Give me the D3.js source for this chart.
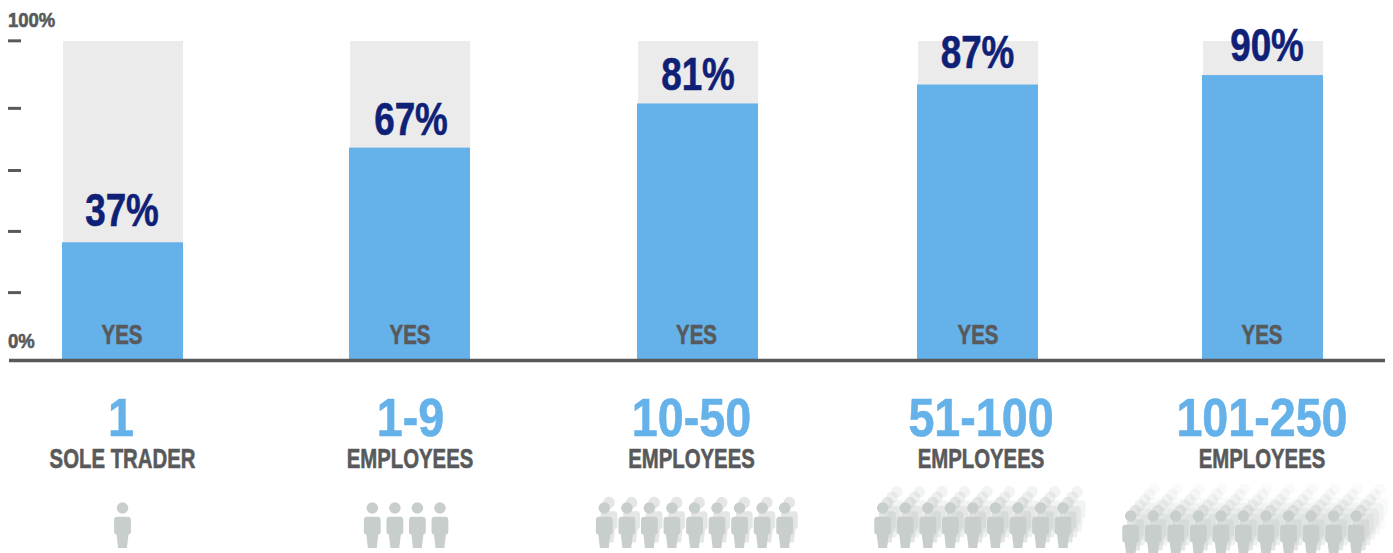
<!DOCTYPE html>
<html>
<head>
<meta charset="utf-8">
<script src="https://cdn.jsdelivr.net/npm/d3@7/dist/d3.min.js"></script>
<style>
  html, body { margin: 0; padding: 0; background: #fff; }
  svg { display: block; }
  text { font-family: "Liberation Sans", Arial, sans-serif; font-weight: 700; }
</style>
</head>
<body>
<svg id="chart" width="1393" height="553"></svg>
<script>
// Share of businesses answering yes, by business size
const categories = ["1", "1-9", "10-50", "51-100", "101-250"];
const subLabels = ["SOLE TRADER", "EMPLOYEES", "EMPLOYEES", "EMPLOYEES", "EMPLOYEES"];
const yesShare = [37, 67, 81, 87, 90];
const axisEnds = [0, 100];
const dashTicks = [101, 79.6, 59.9, 40.6, 21.2];
const peopleInRow = [1, 4, 9, 9, 11];
const rowsBehind = [0, 0, 1, 3, 5];

const colors = { bar: "#65b1ea", track: "#ebebeb", value: "#0f2177", grey: "#58595b", person: "#c8cecc" };

const svg = d3.select("#chart");

const y = d3.scaleLinear().domain(axisEnds).range([359, 43.5]);
const trackTop = 41;
const barCentre = d3.scaleOrdinal().domain(categories).range([122.5, 409.5, 697.5, 977.5, 1262.5]);
const valueCentre = d3.scaleOrdinal().domain(categories).range([122, 411, 698, 977.5, 1267]);
const valueRaise = d3.scaleOrdinal().domain(categories).range([16, 13, 13, 16.5, 14]);
const yesCentre = d3.scaleOrdinal().domain(categories).range([122, 410, 696.5, 978, 1262]);
const labelCentre = d3.scaleOrdinal().domain(categories).range([121, 410.5, 691.5, 981, 1262]);
const subCentre = d3.scaleOrdinal().domain(categories).range([122.5, 410, 691.5, 981, 1262]);
const crowdLeft = d3.scaleOrdinal().domain(categories).range([122.5, 372.3, 604.3, 882.7, 1130.7]);
const crowdDrop = d3.scaleOrdinal().domain(categories).range([0, 0, 0, 0, 8]);
const barWidth = 121;

// Draws condensed lettering by narrowing a bold face horizontally
function placeText(sel, xOf, yOf, squeeze, size, fill) {
  sel.attr("transform", (d, i) => `translate(${xOf(d, i)},${yOf(d, i)}) scale(${squeeze},1)`)
    .attr("font-size", size)
    .attr("fill", fill)
    .attr("stroke", fill)
    .attr("stroke-width", 0.6);
}

// Background tracks, then the filled share on top
svg.append("g").selectAll("rect").data(categories).join("rect")
  .attr("x", d => barCentre(d) - barWidth / 2 + 1)
  .attr("width", barWidth - 1)
  .attr("y", trackTop)
  .attr("height", y(0) - trackTop)
  .attr("fill", colors.track);

svg.append("g").selectAll("rect").data(categories).join("rect")
  .attr("x", d => barCentre(d) - barWidth / 2)
  .attr("width", barWidth)
  .attr("y", (d, i) => y(yesShare[i]))
  .attr("height", (d, i) => y(0) - y(yesShare[i]))
  .attr("fill", colors.bar);

// Value axis: unlabelled dashes with the two end labels
const axis = d3.axisLeft(y).tickValues(dashTicks).tickSize(13).tickFormat("");
const axisG = svg.append("g").attr("transform", "translate(21,0)").call(axis);
axisG.select(".domain").remove();
axisG.selectAll("line").attr("stroke", colors.grey).attr("stroke-width", 3);

svg.append("g").selectAll("text").data([["100%", 27], ["0%", 348]]).join("text")
  .call(placeText, () => 8, d => d[1], 0.88, 21, colors.grey)
  .text(d => d[0]);

// Baseline
svg.append("line")
  .attr("x1", 9).attr("x2", 1385).attr("y1", 360.5).attr("y2", 360.5)
  .attr("stroke", colors.grey).attr("stroke-width", 3.5);

// Percent labels above each bar
svg.append("g").selectAll("text").data(categories).join("text")
  .call(placeText, d => valueCentre(d), (d, i) => y(yesShare[i]) - valueRaise(d), 0.8, 46, colors.value)
  .attr("text-anchor", "middle")
  .text((d, i) => yesShare[i] + "%");

svg.append("g").selectAll("text").data(categories).join("text")
  .call(placeText, d => yesCentre(d), () => 343.5, 0.745, 27.5, colors.grey)
  .attr("text-anchor", "middle")
  .text("YES");

// Size band headings
svg.append("g").selectAll("text").data(categories).join("text")
  .call(placeText, d => labelCentre(d), () => 436, 0.88, 53, colors.bar)
  .attr("text-anchor", "middle")
  .text(d => d);

svg.append("g").selectAll("text").data(categories).join("text")
  .call(placeText, d => subCentre(d), () => 467.5, 0.74, 27.5, colors.grey)
  .attr("text-anchor", "middle")
  .text((d, i) => subLabels[i]);

// One figure, head centred on the origin
function personPath() {
  const p = d3.path();
  p.arc(0, 0, 5.8, 0, 2 * Math.PI);
  p.closePath();
  p.moveTo(-5.5, 8.7);
  p.lineTo(5.5, 8.7);
  p.quadraticCurveTo(8.4, 9, 8.4, 12);
  p.lineTo(8.4, 24.5);
  p.quadraticCurveTo(8.4, 26, 6, 26.5);
  p.lineTo(4.4, 40);
  p.lineTo(-4.4, 40);
  p.lineTo(-6, 26.5);
  p.quadraticCurveTo(-8.4, 26, -8.4, 24.5);
  p.lineTo(-8.4, 12);
  p.quadraticCurveTo(-8.4, 9, -5.5, 8.7);
  p.closePath();
  return p.toString();
}
const figure = personPath();
const rowOpacity = d3.scaleLinear().domain([0, 1, 2, 5]).range([1, 0.5, 0.3, 0.1]);
const spacing = 22.55, stepX = 4.7, stepY = 5.4;

// Rows of figures, rear rows first and progressively fainter
const crowds = svg.append("g");
categories.forEach((c, i) => {
  d3.range(rowsBehind[i], -1, -1).forEach(r => {
    crowds.append("g").selectAll("path").data(d3.range(peopleInRow[i])).join("path")
      .attr("d", figure)
      .attr("fill", colors.person)
      .attr("fill-opacity", rowOpacity(r))
      .attr("transform", k => `translate(${crowdLeft(c) + k * spacing + r * stepX},${508 + crowdDrop(c) - r * stepY})`);
  });
});
</script>
</body>
</html>
